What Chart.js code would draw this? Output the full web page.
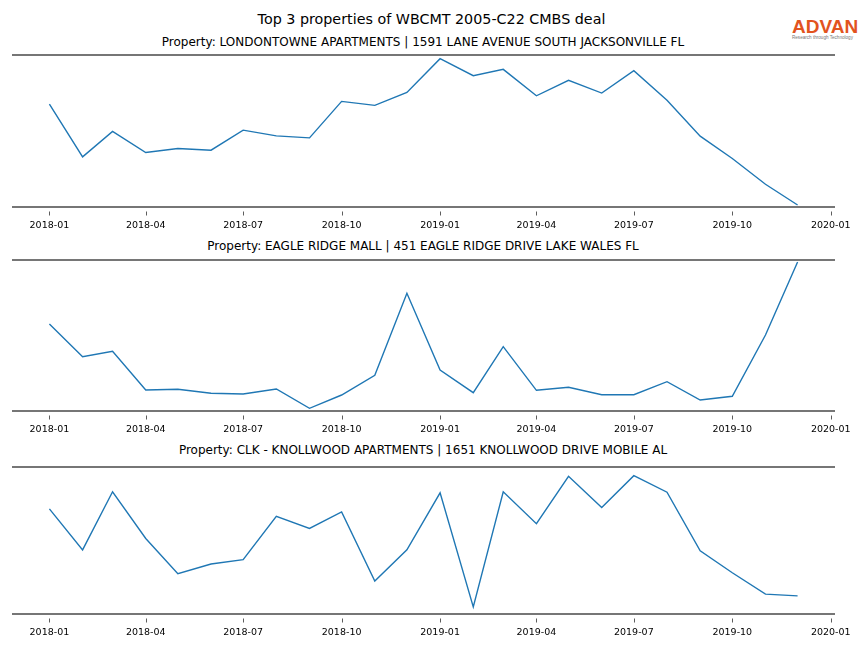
<!DOCTYPE html>
<html><head><meta charset="utf-8">
<script src="https://cdn.jsdelivr.net/npm/chart.js@4/dist/chart.umd.min.js"></script>
<style>
html,body{margin:0;padding:0;background:#fff;}
#wrap{position:relative;width:864px;height:648px;overflow:hidden;font-family:"DejaVu Sans",sans-serif;}
.t{position:absolute;white-space:nowrap;transform:translate(-50%,-50%);color:#000;}
.c{position:absolute;left:0;width:864px;}
</style></head><body>
<div id="wrap">
<div class="t" style="left:431.5px;top:19px;font-size:14.3px;">Top 3 properties of WBCMT 2005-C22 CMBS deal</div>
<div style="position:absolute;left:792px;top:17px;font-family:'Liberation Sans',sans-serif;font-weight:bold;font-size:19px;color:#e2531e;line-height:20px;">ADVAN</div>
<div style="position:absolute;left:792px;top:35px;font-family:'Liberation Sans',sans-serif;font-size:4.6px;color:#777;line-height:5px;">Research through Technology</div>
<div class="t" id="t0" style="left:423px;top:42px;font-size:12px;"></div>
<div class="t" id="t1" style="left:423px;top:246px;font-size:12px;"></div>
<div class="t" id="t2" style="left:423px;top:450px;font-size:12px;"></div>
<div class="c" style="top:50px;height:185px;"><canvas id="c0" width="864" height="185"></canvas></div>
<div class="c" style="top:255px;height:184px;"><canvas id="c1" width="864" height="184"></canvas></div>
<div class="c" style="top:462px;height:180px;"><canvas id="c2" width="864" height="180"></canvas></div>
</div>
<script>
const months = ['2018-01','2018-02','2018-03','2018-04','2018-05','2018-06','2018-07','2018-08','2018-09','2018-10','2018-11','2018-12',
 '2019-01','2019-02','2019-03','2019-04','2019-05','2019-06','2019-07','2019-08','2019-09','2019-10','2019-11','2019-12'];
const tickLabels = ['2018-01','2018-04','2018-07','2018-10','2019-01','2019-04','2019-07','2019-10','2020-01'];
const titles = [
 'Property: LONDONTOWNE APARTMENTS | 1591 LANE AVENUE SOUTH JACKSONVILLE FL',
 'Property: EAGLE RIDGE MALL | 451 EAGLE RIDGE DRIVE LAKE WALES FL',
 'Property: CLK - KNOLLWOOD APARTMENTS | 1651 KNOLLWOOD DRIVE MOBILE AL'
];
const londontowne = [1027,500,754,544,584,567,767,710,690,1054,1014,1144,1480,1310,1374,1110,1264,1137,1360,1066,707,484,227,20];
const eagleRidge  = [870,543,597,210,217,177,170,220,27,160,357,1177,410,183,643,207,237,163,163,293,110,147,760,1490];
const knollwood   = [1044,637,1214,750,400,497,540,970,850,1014,327,637,1204,70,1214,897,1367,1057,1374,1210,627,410,197,180];
const yMax = [1517, 1510, 1460];
const series = [londontowne, eagleRidge, knollwood];

const base = Date.UTC(2018,0,1);
const dayOf = s => { const [y,m] = s.split('-').map(Number); return (Date.UTC(y,m-1,1)-base)/86400000; };
const xs = months.map(dayOf);
const span = xs[xs.length-1]-xs[0];
const xMin = xs[0]-0.05*span, xMax = xs[xs.length-1]+0.05*span;
const tickVals = tickLabels.map(dayOf);

const spines = {
  id:'spines',
  afterDraw(chart){
    const {ctx, chartArea:a} = chart;
    const sx = chart.scales.x;
    ctx.save();
    ctx.strokeStyle = '#4a4a4a';
    ctx.lineWidth = 1.6;
    ctx.beginPath();
    ctx.moveTo(a.left, a.top); ctx.lineTo(a.right, a.top);
    ctx.moveTo(a.left, a.bottom); ctx.lineTo(a.right, a.bottom);
    ctx.stroke();
    ctx.strokeStyle = '#333';
    ctx.lineWidth = 0.8;
    ctx.beginPath();
    tickVals.forEach(v=>{
      const px = Math.round(sx.getPixelForValue(v)) + 0.5;
      ctx.moveTo(px, a.bottom + 4.5); ctx.lineTo(px, a.bottom + 8.5);
    });
    ctx.stroke();
    ctx.restore();
  }
};

series.forEach((vals,i)=>{
  document.getElementById('t'+i).textContent = titles[i];
  new Chart(document.getElementById('c'+i), {
    type:'line',
    data:{datasets:[{data: vals.map((v,k)=>({x:xs[k], y:v})), borderColor:'#1f77b4', borderWidth:1.4,
      pointRadius:0, fill:false, tension:0}]},
    options:{
      responsive:false, animation:false,
      layout:{padding:{top:5,left:12,right:29,bottom:0}},
      plugins:{legend:{display:false}, tooltip:{enabled:false}, title:{display:false}},
      scales:{
        x:{type:'linear', min:xMin, max:xMax,
          afterBuildTicks: s => { s.ticks = tickVals.map(v=>({value:v})); },
          afterFit: s => { s.height = 28; },
          border:{display:false},
          grid:{display:false},
          ticks:{autoSkip:false, maxRotation:0, minRotation:0, padding:5, color:'#000',
            font:{family:'DejaVu Sans', size:9.5},
            callback:(v)=>{ const i = tickVals.indexOf(v); return i>=0 ? tickLabels[i] : ''; }}
        },
        y:{display:false, min:0, max:yMax[i]}
      }
    },
    plugins:[spines]
  });
});
</script>
</body></html>
